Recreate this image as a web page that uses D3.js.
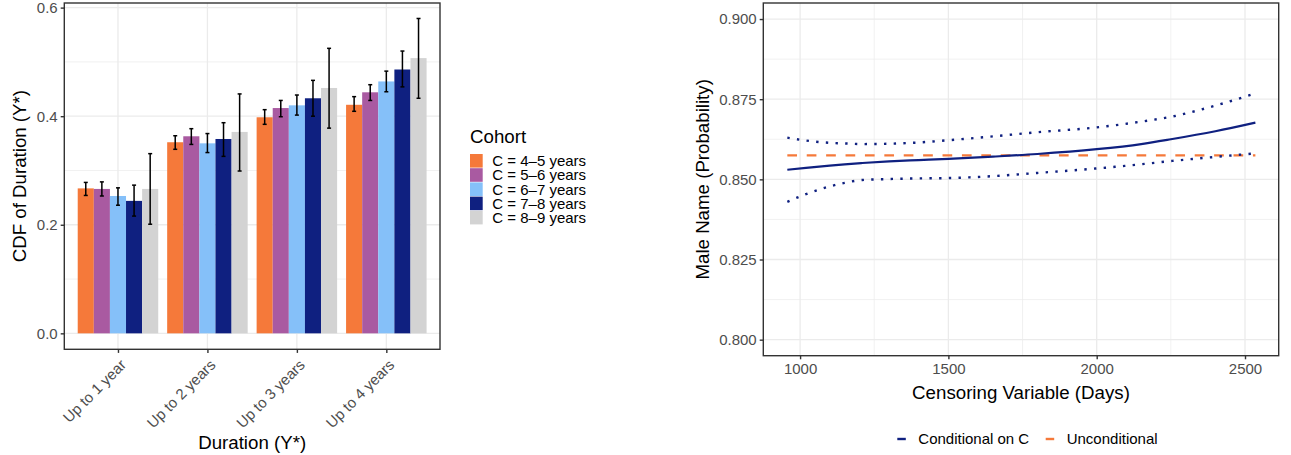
<!DOCTYPE html>
<html><head><meta charset="utf-8">
<script src="https://cdn.jsdelivr.net/npm/d3@7"></script>
<style>
body{margin:0;background:#fff;}
text{font-family:"Liberation Sans",Arial,sans-serif;}
</style></head>
<body><svg id="c" width="1291" height="455"></svg>
<script>
// ---------- Left chart data ----------
const durations = ["Up to 1 year","Up to 2 years","Up to 3 years","Up to 4 years"];
const cohorts = ["C = 4\u20135 years","C = 5\u20136 years","C = 6\u20137 years","C = 7\u20138 years","C = 8\u20139 years"];
const cohortColors = ["#F5793A","#A95AA1","#85C0F9","#0F2080","#D3D3D3"];
const cdf4_5 = [0.267,0.352,0.398,0.421];
const cdf5_6 = [0.266,0.363,0.415,0.444];
const cdf6_7 = [0.253,0.350,0.420,0.464];
const cdf7_8 = [0.244,0.358,0.433,0.486];
const cdf8_9 = [0.266,0.371,0.452,0.507];
const lo4_5 = [0.254,0.339,0.385,0.409];
const hi4_5 = [0.278,0.364,0.412,0.436];
const lo5_6 = [0.253,0.348,0.399,0.429];
const hi5_6 = [0.279,0.377,0.429,0.458];
const lo6_7 = [0.236,0.333,0.402,0.445];
const hi6_7 = [0.268,0.368,0.439,0.483];
const lo7_8 = [0.216,0.326,0.400,0.454];
const hi7_8 = [0.273,0.388,0.466,0.520];
const lo8_9 = [0.201,0.299,0.378,0.433];
const hi8_9 = [0.331,0.441,0.525,0.580];
const leftYTicks = [0.0,0.2,0.4,0.6];
const leftYMinor = [0.1,0.3,0.5];

// ---------- Right chart data ----------
const censorDays = [957,1020,1100,1150,1210,1300,1400,1500,1650,1800,2000,2150,2250,2400,2535];
const condC   = [0.8530,0.8536,0.8543,0.8547,0.8551,0.8556,0.8560,0.8564,0.8571,0.8579,0.8594,0.8610,0.8625,0.8650,0.8677];
const condHi  = [0.8630,0.8621,0.8614,0.8612,0.8610,0.8611,0.8615,0.8622,0.8634,0.8647,0.8662,0.8680,0.8695,0.8730,0.8768];
const condLo  = [0.8430,0.8454,0.8478,0.8489,0.8498,0.8501,0.8503,0.8504,0.8510,0.8520,0.8534,0.8547,0.8557,0.8570,0.8581];
const uncond  = [0.8575,0.8575,0.8575,0.8575,0.8575,0.8575,0.8575,0.8575,0.8575,0.8575,0.8575,0.8575,0.8575,0.8575,0.8575];
const rightYTicks = [0.800,0.825,0.850,0.875,0.900];
const rightYMinor = [0.8125,0.8375,0.8625,0.8875];
const rightXTicks = [1000,1500,2000,2500];
const rightXMinor = [1250,1750,2250];
const lineLabels = ["Conditional on C","Unconditional"];
const lineColors = ["#0F2080","#F5793A"];

const svg = d3.select("#c");
const GRID="#EBEBEB", BORDER="#333333", TICKTXT="#4D4D4D";
const TICKFS=15, TITLEFS=18.7;

// ================= LEFT =================
const L = {x0:64.3,x1:440,y0:3,y1:349.3};
const xL = d3.scaleLinear().domain([0.4,4.6]).range([L.x0,L.x1]);
const yL = d3.scaleLinear().domain([-0.0294,0.6085]).range([L.y1,L.y0]);
const gL = svg.append("g");
gL.selectAll(".mn").data(leftYMinor).join("line")
  .attr("x1",L.x0).attr("x2",L.x1).attr("y1",d=>yL(d)).attr("y2",d=>yL(d))
  .attr("stroke",GRID).attr("stroke-width",0.7);
gL.selectAll(".mj").data(leftYTicks).join("line")
  .attr("x1",L.x0).attr("x2",L.x1).attr("y1",d=>yL(d)).attr("y2",d=>yL(d))
  .attr("stroke",GRID).attr("stroke-width",1.3);
gL.selectAll(".vx").data(durations).join("line")
  .attr("x1",(d,i)=>xL(i+1)).attr("x2",(d,i)=>xL(i+1)).attr("y1",L.y0).attr("y2",L.y1)
  .attr("stroke",GRID).attr("stroke-width",1.3);

const vals=[cdf4_5,cdf5_6,cdf6_7,cdf7_8,cdf8_9];
const los=[lo4_5,lo5_6,lo6_7,lo7_8,lo8_9];
const his=[hi4_5,hi5_6,hi6_7,hi7_8,hi8_9];
const bars=[];
vals.forEach((arr,j)=>arr.forEach((v,i)=>bars.push({i,j,v,lo:los[j][i],hi:his[j][i]})));
const bw=0.18;
gL.selectAll(".bar").data(bars).join("rect")
  .attr("x",d=>xL(d.i+1+(d.j-2)*bw-bw/2))
  .attr("width",d=>xL(bw)-xL(0))
  .attr("y",d=>yL(d.v)).attr("height",d=>yL(0)-yL(d.v))
  .attr("fill",d=>cohortColors[d.j]);
const eb=gL.selectAll(".eb").data(bars).join("g");
eb.append("line").attr("x1",d=>xL(d.i+1+(d.j-2)*bw)).attr("x2",d=>xL(d.i+1+(d.j-2)*bw))
  .attr("y1",d=>yL(d.lo)).attr("y2",d=>yL(d.hi)).attr("stroke","#000").attr("stroke-width",1.5);
["lo","hi"].forEach(k=>{
  eb.append("line").attr("x1",d=>xL(d.i+1+(d.j-2)*bw)-2).attr("x2",d=>xL(d.i+1+(d.j-2)*bw)+2)
    .attr("y1",d=>yL(d[k])).attr("y2",d=>yL(d[k])).attr("stroke","#000").attr("stroke-width",1.5);
});
gL.append("rect").attr("x",L.x0).attr("y",L.y0).attr("width",L.x1-L.x0).attr("height",L.y1-L.y0)
  .attr("fill","none").attr("stroke",BORDER).attr("stroke-width",1.4);
const ayL=gL.append("g").attr("transform",`translate(${L.x0},0)`)
  .call(d3.axisLeft(yL).tickValues(leftYTicks).tickFormat(d3.format(".1f")).tickSize(3.6).tickPadding(3));
const axL=gL.append("g").attr("transform",`translate(0,${L.y1})`)
  .call(d3.axisBottom(xL).tickValues([1,2,3,4]).tickFormat(d=>durations[d-1]).tickSize(3.6));
[ayL,axL].forEach(a=>{a.select(".domain").remove();a.selectAll(".tick line").attr("stroke",BORDER).attr("stroke-width",1.4);
  a.selectAll("text").attr("fill",TICKTXT).style("font-size",TICKFS+"px").style("font-family","Liberation Sans, Arial, sans-serif");});
axL.selectAll(".tick text").attr("text-anchor","end").attr("dy",null).attr("y",null)
  .attr("transform","translate(1,9) rotate(-45)").attr("dy","0.71em");
svg.append("text").attr("x",(L.x0+L.x1)/2).attr("y",449).attr("text-anchor","middle")
  .style("font-size",TITLEFS+"px").text("Duration (Y*)");
svg.append("text").attr("transform",`translate(26,${(L.y0+L.y1)/2}) rotate(-90)`).attr("text-anchor","middle")
  .style("font-size",TITLEFS+"px").text("CDF of Duration (Y*)");
const lg=svg.append("g");
lg.append("text").attr("x",470).attr("y",142.5).style("font-size",TITLEFS+"px").text("Cohort");
cohorts.forEach((c,j)=>{
  const ty=154+j*14.2;
  lg.append("rect").attr("x",470).attr("y",ty).attr("width",12.7).attr("height",13.6).attr("fill",cohortColors[j]);
  lg.append("text").attr("x",492.3).attr("y",ty+6.8).attr("dy","0.36em").style("font-size",TICKFS+"px").text(c);
});

// ================= RIGHT =================
const R = {x0:763.3,x1:1278.7,y0:3,y1:355.7};
const xR = d3.scaleLinear().domain([876,2613.6]).range([R.x0,R.x1]);
const yR = d3.scaleLinear().domain([0.795,0.905]).range([R.y1,R.y0]);
const gR = svg.append("g");
gR.selectAll(".ymn").data(rightYMinor).join("line").attr("x1",R.x0).attr("x2",R.x1)
  .attr("y1",d=>yR(d)).attr("y2",d=>yR(d)).attr("stroke",GRID).attr("stroke-width",0.7);
gR.selectAll(".xmn").data(rightXMinor).join("line").attr("y1",R.y0).attr("y2",R.y1)
  .attr("x1",d=>xR(d)).attr("x2",d=>xR(d)).attr("stroke",GRID).attr("stroke-width",0.7);
gR.selectAll(".ymj").data(rightYTicks).join("line").attr("x1",R.x0).attr("x2",R.x1)
  .attr("y1",d=>yR(d)).attr("y2",d=>yR(d)).attr("stroke",GRID).attr("stroke-width",1.3);
gR.selectAll(".xmj").data(rightXTicks).join("line").attr("y1",R.y0).attr("y2",R.y1)
  .attr("x1",d=>xR(d)).attr("x2",d=>xR(d)).attr("stroke",GRID).attr("stroke-width",1.3);

const line=(ys)=>d3.line().x((d,i)=>xR(censorDays[i])).y(d=>yR(d)).curve(d3.curveMonotoneX)(ys);
gR.append("path").attr("d",line(uncond)).attr("fill","none").attr("stroke",lineColors[1])
  .attr("stroke-width",2.2).attr("stroke-dasharray","9.7 9.7");
gR.append("path").attr("d",line(condC)).attr("fill","none").attr("stroke",lineColors[0]).attr("stroke-width",2.2);
[condHi,condLo].forEach(s=>gR.append("path").attr("d",line(s)).attr("fill","none").attr("stroke",lineColors[0])
  .attr("stroke-width",2.4).attr("stroke-dasharray","2.4 7.3"));

gR.append("rect").attr("x",R.x0).attr("y",R.y0).attr("width",R.x1-R.x0).attr("height",R.y1-R.y0)
  .attr("fill","none").attr("stroke",BORDER).attr("stroke-width",1.4);
const ayR=gR.append("g").attr("transform",`translate(${R.x0},0)`)
  .call(d3.axisLeft(yR).tickValues(rightYTicks).tickFormat(d3.format(".3f")).tickSize(3.6).tickPadding(3));
const axR=gR.append("g").attr("transform",`translate(0,${R.y1})`)
  .call(d3.axisBottom(xR).tickValues(rightXTicks).tickFormat(d3.format("d")).tickSize(3.6).tickPadding(4));
[ayR,axR].forEach(a=>{a.select(".domain").remove();a.selectAll(".tick line").attr("stroke",BORDER).attr("stroke-width",1.4);
  a.selectAll("text").attr("fill",TICKTXT).style("font-size",TICKFS+"px").style("font-family","Liberation Sans, Arial, sans-serif");});
svg.append("text").attr("x",(R.x0+R.x1)/2).attr("y",399).attr("text-anchor","middle")
  .style("font-size",TITLEFS+"px").text("Censoring Variable (Days)");
svg.append("text").attr("transform",`translate(709,${(R.y0+R.y1)/2}) rotate(-90)`).attr("text-anchor","middle")
  .style("font-size",TITLEFS+"px").text("Male Name (Probability)");
const lb=svg.append("g");
const legX=[897.3,1045.7];
lineLabels.forEach((t,k)=>{
  lb.append("line").attr("x1",legX[k]).attr("x2",legX[k]+8.5).attr("y1",439).attr("y2",439)
    .attr("stroke",lineColors[k]).attr("stroke-width",2.4);
  lb.append("text").attr("x",legX[k]+21).attr("y",439).attr("dy","0.36em").style("font-size",TICKFS+"px").text(t);
});
</script></body></html>
